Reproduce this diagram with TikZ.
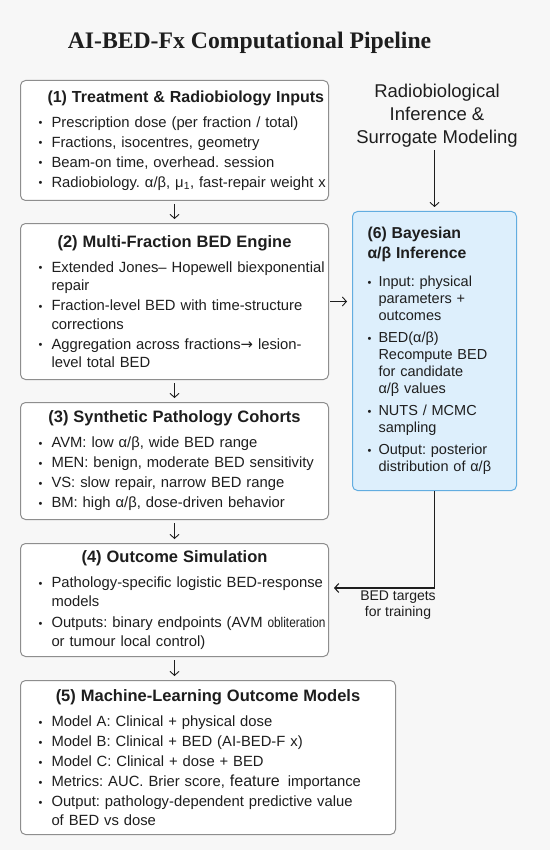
\documentclass[tikz,border=0pt]{standalone}
\usepackage{fontspec}
\setmainfont{Liberation Sans}
\newfontfamily\headserif{Liberation Serif}
\newfontfamily\arrowfont{DejaVu Sans}
\usepackage{xcolor}
\usepackage{graphicx}
\usetikzlibrary{arrows.meta,positioning}
\definecolor{paper}{HTML}{F7F7F7}
\definecolor{ink}{HTML}{1E1E1E}
\definecolor{edgegray}{HTML}{8E8E8E}
\definecolor{bayesfill}{HTML}{DDEFFC}
\definecolor{bayesedge}{HTML}{62ADE0}
\frenchspacing
\newlength\bulw
\setlength\bulw{13pt}
\newcommand\bodyfont{\fontsize{14.8}{18.5}\selectfont}
\newcommand\ttl[1]{\makebox[\linewidth][c]{\bfseries\fontsize{16.5}{18.5}\selectfont #1}}
\newcommand\itm[1]{\mbox{\makebox[\bulw][l]{\raisebox{0.6pt}{\fontsize{11}{11}\selectfont •}}#1}}
\newcommand\wrp[1]{\mbox{\hspace*{\bulw}#1}}
\newcommand\ab{α/β}

\begin{document}
\begin{tikzpicture}[x=1pt,y=1pt,
  stage/.style={draw=edgegray,line width=1pt,rounded corners=5pt,fill=white,anchor=north west,inner xsep=18pt,inner ysep=0pt,align=left,text=ink,font=\bodyfont},
  flow/.style={draw=ink,line width=0.9pt,-{Straight Barb[length=4pt,width=9pt]},shorten <=3pt,shorten >=4pt}]
\fill[paper] (0,0) rectangle (550,-850);
\useasboundingbox (0,0) rectangle (550,-850);

\node[anchor=base,text=ink,font=\headserif\bfseries\fontsize{23.7}{28}\selectfont] (title) at (249.5,-49) {AI-BED-Fx Computational Pipeline};

\node[stage,text width=272pt,minimum height=120pt] (b1) at (20,-80) {%
\hspace*{9pt}\mbox{\bfseries\fontsize{16}{18.5}\selectfont (1) Treatment \& Radiobiology Inputs}\\[6.5pt]
\itm{Prescription dose (per fraction / total)}\\[1.5pt]
\itm{Fractions, isocentres, geometry}\\[1.5pt]
\itm{Beam-on time, overhead. session}\\[1.5pt]
\itm{Radiobiology. \ab, μ\textsubscript{1}, fast-repair weight x}};

\node[stage,text width=272pt,minimum height=156pt,below=22pt of b1.south west,anchor=north west] (b2) {%
\ttl{(2) Multi-Fraction BED Engine}\\[6.5pt]
\itm{Extended Jones– Hopewell biexponential}\\
\wrp{repair}\\[1.5pt]
\itm{Fraction-level BED with time-structure}\\
\wrp{corrections}\\[1.5pt]
\itm{Aggregation across fractions{\arrowfont →} lesion-}\\
\wrp{level total BED}};

\node[stage,text width=272pt,minimum height=117pt,below=22pt of b2.south west,anchor=north west] (b3) {%
\ttl{(3) Synthetic Pathology Cohorts}\\[6.5pt]
\itm{AVM: low \ab, wide BED range}\\[1.5pt]
\itm{MEN: benign, moderate BED sensitivity}\\[1.5pt]
\itm{VS: slow repair, narrow BED range}\\[1.5pt]
\itm{BM: high \ab, dose-driven behavior}};

\node[stage,text width=272pt,minimum height=113pt,below=23pt of b3.south west,anchor=north west] (b4) {%
\ttl{(4) Outcome Simulation}\\[6.5pt]
\itm{Pathology-specific logistic BED-response}\\
\wrp{models}\\[3pt]
\itm{Outputs: binary endpoints (AVM \scalebox{0.8}[0.95]{obliteration}}\\
\wrp{or tumour local control)}};

\node[stage,text width=339pt,minimum height=154pt,below=23pt of b4.south west,anchor=north west] (b5) {%
\ttl{(5) Machine-Learning Outcome Models}\\[6.5pt]
\itm{Model A: Clinical + physical dose}\\[1.5pt]
\itm{Model B: Clinical + BED (AI-BED-F x)}\\[1.5pt]
\itm{Model C: Clinical + dose + BED}\\[1.5pt]
\itm{Metrics: AUC. Brier score, {\fontsize{16}{18}\selectfont feature}\hspace{8pt}importance}\\[1.5pt]
\itm{Output: pathology-dependent predictive value}\\
\wrp{of BED vs dose}};

\node[stage,draw=bayesedge,fill=bayesfill,inner xsep=15pt,text width=134pt,minimum height=279pt,
  font={\fontsize{14.5}{17}\selectfont\setlength\bulw{11pt}}] (b6) at (352,-211) {%
\mbox{\bfseries\fontsize{15.8}{17}\selectfont (6) Bayesian}\\[3pt]
\mbox{\bfseries\fontsize{15.8}{17}\selectfont \ab\ Inference}\\[11pt]
\itm{Input: physical}\\
\wrp{parameters +}\\
\wrp{outcomes}\\[5pt]
\itm{BED(\ab)}\\
\wrp{Recompute BED}\\
\wrp{for candidate}\\
\wrp{\ab\ values}\\[5pt]
\itm{NUTS / MCMC}\\
\wrp{sampling}\\[5pt]
\itm{Output: posterior}\\
\wrp{distribution of \ab}};

\node[align=center,text=ink,inner sep=0pt,font=\fontsize{18.5}{23}\selectfont] (hdr) at (437,-115.5) {Radiobiological\\Inference \&\\Surrogate Modeling};

\draw[flow] (b1) -- (b2);
\draw[flow] (b2) -- (b3);
\draw[flow] (b3) -- (b4);
\draw[flow] (b4.south) -- (b4.south |- b5.north);
\draw[flow] (b6.north |- hdr.south) -- (b6.north);
\draw[flow,shorten <=1pt,shorten >=5pt] (b2.east) -- (b2.east -| b6.west);
\draw[flow,line width=1.1pt,shorten <=0pt,shorten >=5pt] (b6.south) |- ([yshift=12pt]b4.east);
\node[text=ink,align=center,inner sep=0pt,font=\fontsize{14}{16}\selectfont] (tgt) at (398,-605) {BED targets\\for training};
\end{tikzpicture}
\end{document}
